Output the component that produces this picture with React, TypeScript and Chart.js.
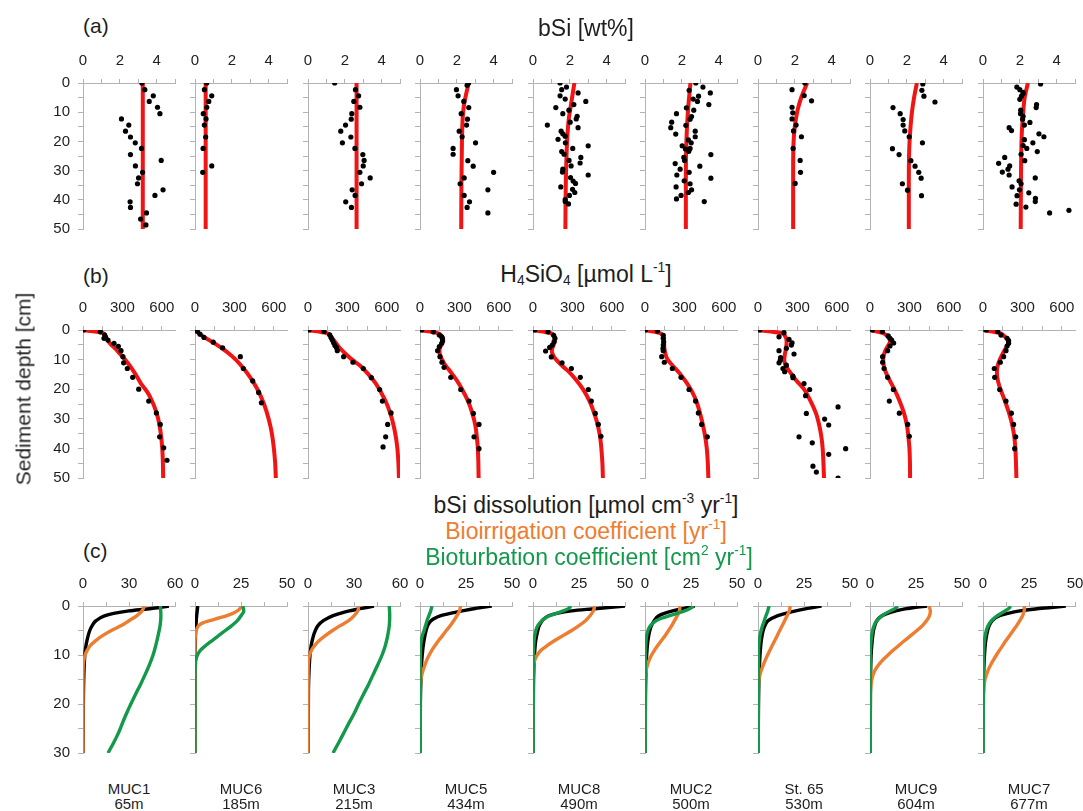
import React, { useEffect, useRef } from 'react';
import { Chart, registerables } from 'chart.js';

Chart.register(...registerables);

// [depth (cm), value]
type Pair = [number, number];

const STATIONS = ['MUC1', 'MUC6', 'MUC3', 'MUC5', 'MUC8', 'MUC2', 'St. 65', 'MUC9', 'MUC7'];
const WATER_DEPTHS = ['65m', '185m', '215m', '434m', '490m', '500m', '530m', '604m', '677m'];

// axis ticks
const BSI_TICKS = [0, 1, 2, 3, 4, 5];
const BSI_LABELS = [0, 2, 4];
const H4SIO4_TICKS = [0, 150, 300, 450, 600];
const H4SIO4_LABELS = [0, 300, 600];
const RATE_MAX = [60, 50, 60, 50, 50, 50, 50, 50, 50];
const DEPTH_TICKS_AB = [0, 5, 10, 15, 20, 25, 30, 35, 40, 45, 50];
const DEPTH_LABELS_AB = [0, 10, 20, 30, 40, 50];
const DEPTH_TICKS_C = [0, 5, 10, 15, 20, 25, 30];
const DEPTH_LABELS_C = [0, 10, 20, 30];

// ---------- (a) bSi [wt%]: measured ----------
const bsiObsMUC1: Pair[] = [[0, 3.2], [2.3, 3.36], [4.4, 3.82], [6.3, 3.6], [8.3, 4.05], [10.5, 4.18], [12.3, 2.09], [14.4, 2.49], [16.5, 2.31], [18.5, 2.58], [20.5, 2.84], [22.4, 3.18], [24.5, 2.58], [26.5, 4.25], [28.4, 2.85], [30.6, 3.24], [32.5, 3.02], [34.5, 2.96], [36.6, 4.35], [38.5, 3.91], [40.7, 2.56], [42.6, 2.58], [44.5, 3.45], [46.6, 3.13], [48.6, 3.42]];
const bsiObsMUC6: Pair[] = [[0, 0.64], [2.3, 0.51], [4.4, 0.91], [6.3, 0.75], [8.3, 0.64], [10.5, 0.45], [12.3, 0.6], [14.4, 0.51], [18.5, 0.58], [22.4, 0.44], [28.4, 0.91], [30.6, 0.42]];
const bsiObsMUC3: Pair[] = [[0, 1.45], [2.3, 2.58], [4.4, 2.75], [6.3, 2.49], [8.3, 2.82], [10.5, 2.38], [12.4, 2.35], [14.4, 2.04], [16.5, 1.78], [18.5, 2.33], [20.5, 1.87], [22.4, 2.55], [24.5, 2.98], [26.5, 3.05], [28.4, 3.0], [30.6, 2.82], [32.5, 3.38], [34.5, 2.91], [36.6, 2.4], [38.5, 2.56], [40.7, 2.05], [42.6, 2.36]];
const bsiObsMUC5: Pair[] = [[0, 2.64], [0.8, 2.56], [2.3, 1.98], [4.4, 2.07], [6.3, 2.38], [8.4, 2.65], [10.5, 2.24], [12.4, 2.58], [14.4, 2.53], [16.5, 2.13], [18.4, 2.29], [20.5, 3.02], [22.4, 1.8], [24.4, 1.8], [26.6, 2.6], [28.5, 2.89], [30.6, 4.0], [32.5, 2.4], [34.5, 2.18], [36.6, 3.69], [38.5, 2.4], [40.7, 2.69], [42.6, 2.56], [44.5, 3.69]];
const bsiObsMUC8: Pair[] = [[0, 1.47], [1.4, 1.82], [2.3, 1.56], [3.4, 2.45], [4.4, 1.47], [5.5, 1.75], [6.3, 2.87], [7.4, 2.22], [8.4, 1.24], [9.3, 1.95], [10.5, 1.62], [11.4, 2.4], [12.3, 2.35], [13.4, 2.02], [14.4, 0.78], [15.3, 2.45], [16.5, 1.53], [17.4, 1.62], [18.2, 1.75], [19.3, 1.36], [20.5, 1.76], [21.5, 3.0], [22.4, 2.16], [23.5, 1.56], [24.4, 1.69], [25.5, 2.6], [26.5, 1.96], [27.4, 2.56], [28.4, 2.07], [29.5, 1.62], [30.5, 1.6], [31.5, 3.0], [32.4, 2.04], [33.6, 2.18], [34.4, 2.31], [35.6, 1.51], [36.4, 2.15], [37.5, 2.27], [38.5, 1.98], [39.9, 1.75], [40.6, 1.75], [41.4, 1.93]];
const bsiObsMUC2: Pair[] = [[0, 2.76], [1.4, 3.15], [2.5, 2.4], [3.4, 3.55], [4.5, 2.91], [5.5, 2.62], [6.3, 2.85], [7.4, 3.47], [8.5, 2.25], [9.3, 2.65], [10.5, 1.71], [11.5, 2.53], [12.4, 2.45], [13.4, 1.45], [14.5, 2.22], [15.3, 1.4], [16.5, 2.73], [17.5, 1.67], [18.4, 2.73], [19.5, 2.36], [20.5, 2.51], [21.5, 2.02], [22.4, 2.45], [22.6, 2.2], [23.4, 2.38], [24.5, 3.58], [25.5, 2.11], [26.5, 2.15], [27.6, 1.64], [28.5, 2.98], [29.5, 1.91], [30.6, 2.4], [31.5, 1.73], [32.6, 3.58], [33.5, 2.13], [34.5, 2.45], [35.6, 1.69], [36.6, 2.53], [37.5, 2.36], [38.5, 1.96], [39.7, 1.71], [40.6, 3.22]];
const bsiObsSt65: Pair[] = [[0, 2.55], [2.3, 1.85], [4.3, 2.51], [6.1, 2.91], [8.3, 1.85], [10.2, 1.89], [12.3, 1.85], [14.4, 2.07], [16.4, 1.93], [18.4, 2.36], [22.4, 1.91], [26.5, 2.29], [30.6, 2.31], [34.4, 2.02]];
const bsiObsMUC9: Pair[] = [[0.3, 2.87], [2.5, 2.82], [4.5, 2.93], [6.5, 3.53], [8.4, 1.25], [10.5, 1.64], [12.5, 1.8], [14.4, 1.8], [16.4, 1.89], [18.4, 2.13], [20.5, 2.85], [22.5, 1.22], [24.5, 1.58], [26.6, 2.22], [28.5, 2.45], [30.6, 2.65], [32.6, 2.78], [34.5, 1.76], [36.7, 2.04], [38.6, 2.8]];
const bsiObsMUC7: Pair[] = [[0.3, 3.13], [1.4, 1.84], [2.3, 2.0], [3.2, 2.18], [3.6, 2.18], [4.5, 2.09], [5.6, 2.0], [7.4, 2.91], [8.4, 2.89], [9.3, 2.05], [10.5, 2.04], [11.4, 2.18], [12.4, 2.15], [13.5, 2.55], [14.4, 2.25], [15.3, 1.42], [16.3, 1.55], [17.4, 3.04], [18.4, 3.31], [19.4, 2.25], [20.5, 2.71], [21.4, 2.18], [22.4, 2.38], [23.5, 2.95], [24.4, 2.07], [25.5, 1.18], [26.6, 2.27], [27.5, 0.85], [28.4, 1.45], [29.5, 1.36], [30.5, 1.05], [31.5, 1.42], [32.5, 2.84], [33.5, 1.96], [34.5, 2.07], [35.6, 1.58], [36.6, 1.98], [37.6, 2.49], [38.6, 1.85], [39.5, 2.85], [40.6, 2.84], [41.5, 1.8], [42.5, 2.33], [43.6, 4.67], [44.5, 3.62]];

// ---------- (a) bSi [wt%]: model ----------
const bsiModMUC1: Pair[] = [[0, 3.25], [50, 3.25]];
const bsiModMUC6: Pair[] = [[0, 0.58], [50, 0.58]];
const bsiModMUC3: Pair[] = [[0, 2.64], [50, 2.64]];
const bsiModMUC5: Pair[] = [[0, 2.65], [4, 2.5], [8, 2.38], [12, 2.32], [20, 2.28], [35, 2.25], [50, 2.24]];
const bsiModMUC8: Pair[] = [[0, 2.25], [4, 2.15], [8, 2.05], [12, 1.95], [18, 1.87], [25, 1.82], [35, 1.78], [50, 1.76]];
const bsiModMUC2: Pair[] = [[0, 2.47], [10, 2.33], [20, 2.25], [30, 2.22], [50, 2.22]];
const bsiModSt65: Pair[] = [[0, 2.67], [4.8, 2.36], [9.3, 2.15], [15, 2.0], [20.7, 1.93], [30, 1.91], [50, 1.91]];
const bsiModMUC9: Pair[] = [[0, 2.55], [4.8, 2.4], [10.5, 2.27], [17, 2.18], [23, 2.13], [35, 2.11], [50, 2.11]];
const bsiModMUC7: Pair[] = [[0, 2.44], [4.8, 2.27], [10.5, 2.18], [17, 2.11], [28, 2.07], [50, 2.05]];

// ---------- (b) H4SiO4 [µmol L-1]: measured ----------
const siObsMUC1: Pair[] = [[0, 5], [0.6, 132], [1.7, 165], [2.5, 172], [2.8, 160], [3.4, 190], [4.5, 236], [5.5, 269], [7.0, 289], [9.0, 304], [11.1, 309], [13.0, 337], [16.0, 378], [20.0, 424], [24.0, 500], [28.0, 558], [31.9, 588], [36.1, 583], [39.8, 614], [44.0, 639]];
const siObsMUC6: Pair[] = [[0, 5], [0.5, 18], [1.4, 38], [2.5, 68], [4.1, 139], [6.0, 210], [9.0, 345], [13.0, 368], [17.2, 439], [21.1, 484], [24.6, 505]];
const siObsMUC3: Pair[] = [[0, 8], [0.5, 122], [1.6, 165], [2.5, 175], [3.4, 185], [4.3, 195], [5.2, 205], [5.9, 216], [7.0, 223], [9.0, 271], [10.9, 342], [13.0, 421], [16.1, 482], [20.1, 545], [24.0, 566], [28.0, 632], [31.9, 606], [36.1, 591], [39.5, 571]];
const siObsMUC5: Pair[] = [[0, 13], [0.6, 101], [1.7, 147], [2.3, 165], [2.9, 170], [3.6, 172], [4.5, 165], [5.6, 147], [7.0, 134], [9.0, 152], [10.9, 167], [12.6, 183], [16.0, 234], [20.1, 310], [24.0, 373], [28.2, 406], [31.9, 449], [36.1, 411], [40.1, 449]];
const siObsMUC8: Pair[] = [[0, 13], [0.6, 114], [1.8, 157], [2.8, 167], [4.0, 160], [5.1, 147], [5.9, 127], [7.1, 96], [9.1, 139], [11.1, 221], [13.0, 292], [16.0, 360], [20.1, 421], [24.0, 444], [28.2, 474], [31.9, 497], [35.9, 517]];
const siObsMUC2: Pair[] = [[0, 5], [0.3, 94], [1.8, 139], [2.8, 139], [4.0, 142], [5.1, 139], [6.2, 137], [7.0, 139], [9.0, 127], [10.9, 147], [13.0, 208], [16.0, 274], [20.1, 335], [24.0, 385], [28.0, 406], [31.9, 431], [36.1, 474]];
const siObsSt65: Pair[] = [[0, 13], [0.9, 198], [2.3, 160], [3.2, 236], [4.3, 259], [5.1, 254], [6.2, 216], [7.0, 160], [8.1, 274], [9.3, 172], [10.2, 170], [11.1, 160], [11.9, 216], [13.0, 190], [14.1, 203], [15.6, 266], [16.1, 266], [18.1, 350], [20.1, 393], [22.2, 362], [26.0, 609], [28.2, 368], [30.1, 507], [32.1, 538], [36.1, 312], [38.1, 413], [40.1, 667], [42.0, 538], [46.0, 418], [48.0, 444], [50.0, 609]];
const siObsMUC9: Pair[] = [[0, 18], [0.5, 94], [2.0, 139], [2.8, 152], [3.4, 165], [4.4, 180], [5.4, 152], [7.0, 134], [9.0, 96], [10.9, 96], [13.0, 107], [16.0, 134], [20.1, 178], [24.0, 147], [28.1, 223], [31.9, 287], [35.9, 299]];
const siObsMUC7: Pair[] = [[0, 25], [0.5, 112], [1.7, 137], [2.8, 183], [3.6, 195], [4.5, 195], [5.4, 183], [7.0, 175], [9.0, 157], [10.9, 132], [13.0, 86], [16.0, 89], [20.1, 127], [24.0, 175], [28.1, 216], [31.9, 233], [36.1, 249], [40.1, 241]];

// ---------- (b) H4SiO4 [µmol L-1]: model ----------
const siModMUC1: Pair[] = [[0, 0], [1, 150], [2, 170], [3, 180], [4, 195], [5, 215], [6, 240], [8, 280], [10, 320], [12, 355], [15, 400], [18, 440], [21, 490], [24, 525], [27, 552], [30, 572], [35, 592], [40, 603], [45, 608], [50, 610]];
const siModMUC6: Pair[] = [[0, 0], [2, 55], [4, 130], [6, 200], [8, 260], [10, 310], [13, 370], [16, 420], [20, 475], [25, 525], [30, 560], [35, 585], [40, 600], [45, 610], [50, 615]];
const siModMUC3: Pair[] = [[0, 0], [1, 140], [2, 170], [4, 205], [6, 240], [8, 285], [10, 335], [12, 395], [15, 460], [18, 515], [21, 555], [24, 590], [28, 625], [32, 650], [36, 668], [40, 680], [45, 688], [50, 692]];
const siModMUC5: Pair[] = [[0, 0], [1, 130], [2, 165], [3, 175], [4, 172], [5, 163], [6, 152], [7, 148], [8, 150], [10, 168], [12, 195], [14, 230], [17, 280], [20, 320], [24, 365], [28, 397], [32, 420], [36, 432], [40, 440], [45, 444], [50, 446]];
const siModMUC8: Pair[] = [[0, 0], [1, 130], [2, 162], [3, 168], [4, 165], [5, 157], [6, 148], [7, 143], [8, 148], [10, 175], [12, 220], [14, 270], [17, 330], [20, 380], [24, 430], [28, 465], [32, 492], [36, 510], [40, 520], [45, 528], [50, 532]];
const siModMUC2: Pair[] = [[0, 0], [1, 110], [2, 138], [4, 145], [6, 147], [8, 155], [10, 172], [12, 210], [15, 270], [18, 320], [21, 360], [24, 390], [28, 418], [32, 440], [36, 458], [40, 470], [45, 478], [50, 482]];
const siModSt65: Pair[] = [[0, 0], [1, 170], [2, 205], [4, 218], [6, 214], [8, 205], [10, 200], [12, 210], [14, 240], [17, 290], [20, 350], [24, 400], [28, 440], [32, 465], [36, 482], [40, 492], [45, 498], [50, 502]];
const siModMUC9: Pair[] = [[0, 0], [1, 95], [2, 130], [3, 148], [4, 152], [5, 142], [6, 128], [8, 108], [10, 100], [12, 105], [14, 118], [17, 150], [20, 185], [24, 225], [28, 258], [32, 280], [36, 292], [40, 300], [45, 304], [50, 305]];
const siModMUC7: Pair[] = [[0, 0], [1, 125], [2, 160], [3, 185], [4, 192], [5, 188], [6, 175], [8, 150], [10, 128], [12, 112], [14, 106], [16, 108], [19, 125], [22, 150], [25, 175], [28, 198], [32, 222], [36, 238], [40, 246], [45, 251], [50, 254]];

// ---------- (c) bSi dissolution [µmol cm-3 yr-1] ----------
const dissMUC1: Pair[] = [[0, 56], [0.3, 50], [0.6, 42], [1, 30], [1.5, 20], [2, 14], [3, 8.5], [4, 6], [5, 4.4], [7, 2.6], [9, 1.5], [12, 0.8], [16, 0.4], [20, 0.2], [30, 0.1]];
const dissMUC6: Pair[] = [[0, 1.5], [1, 1.2], [2, 0.9], [3, 0.7], [4, 0.5], [5, 0.35], [7, 0.2], [10, 0.1], [30, 0]];
const dissMUC3: Pair[] = [[0, 43], [0.5, 35], [1, 27], [1.5, 21], [2, 16], [3, 10], [4, 6.5], [5, 4.8], [6, 3.6], [8, 2.1], [10, 1.3], [13, 0.7], [17, 0.3], [30, 0.1]];
const dissMUC5: Pair[] = [[0, 39], [0.5, 30], [1, 23], [1.5, 16.5], [2, 11], [2.5, 8], [3, 6], [4, 4.2], [5, 3.3], [7, 2.2], [10, 1.2], [15, 0.5], [20, 0.2], [30, 0.1]];
const dissMUC8: Pair[] = [[0, 50], [0.3, 41], [0.6, 32], [1, 21], [1.5, 13], [2, 8.5], [3, 5], [4, 3.4], [5, 2.6], [7, 1.5], [10, 0.8], [15, 0.3], [30, 0.1]];
const dissMUC2: Pair[] = [[0, 27], [0.5, 21], [1, 15], [1.5, 10.5], [2, 7.5], [3, 5], [4, 3.5], [5, 2.6], [7, 1.6], [10, 0.9], [15, 0.4], [30, 0.1]];
const dissSt65: Pair[] = [[0, 34.5], [0.5, 27], [1, 20.5], [1.5, 15], [2, 10.5], [3, 5.5], [4, 3.8], [5, 2.8], [7, 1.8], [10, 1.1], [15, 0.5], [30, 0.1]];
const dissMUC9: Pair[] = [[0, 31], [0.3, 24], [0.6, 19], [1, 14], [1.5, 9.5], [2, 6.5], [3, 3.7], [4, 2.6], [5, 1.9], [7, 1.2], [10, 0.6], [15, 0.3], [30, 0.1]];
const dissMUC7: Pair[] = [[0, 45], [0.3, 37], [0.6, 28.5], [1, 20], [1.5, 13.5], [2, 9], [3, 5], [4, 3.4], [5, 2.5], [7, 1.5], [10, 0.8], [15, 0.3], [30, 0.1]];

// ---------- (c) Bioirrigation coefficient [yr-1] ----------
const irrMUC1: Pair[] = [[0, 40], [1, 38.5], [2, 35], [3, 30], [4, 25], [5, 18.5], [6, 13], [7, 8.5], [8, 5], [9, 2.8], [10, 1.4], [11, 0.6], [12, 0.2], [14, 0], [30, 0]];
const irrMUC6: Pair[] = [[0, 25], [0.5, 24.5], [1, 23], [1.5, 20.5], [2, 17], [2.5, 12.5], [3, 8], [3.5, 4], [4, 2], [5, 0.7], [6, 0.2], [8, 0], [30, 0]];
const irrMUC3: Pair[] = [[0, 33], [1, 32.5], [2, 30], [3, 26.5], [4, 21], [5, 16], [6, 11.5], [7, 7.5], [8, 4.5], [9, 2.3], [10, 1], [11, 0.4], [13, 0.1], [30, 0]];
const irrMUC5: Pair[] = [[0, 22], [1, 21.5], [2, 20], [3, 18.3], [4, 16.5], [5, 14.3], [6, 12.3], [7, 10.2], [8, 8.3], [9, 6.5], [10, 5], [11, 3.7], [12, 2.7], [13, 1.8], [14, 1], [15, 0.5], [17, 0.1], [30, 0]];
const irrMUC8: Pair[] = [[0, 33.5], [1, 32.8], [2, 31], [3, 28.5], [4, 25], [5, 21], [6, 16.5], [7, 12], [8, 8], [9, 4.5], [10, 2.3], [11, 1], [12, 0.4], [14, 0.1], [30, 0]];
const irrMUC2: Pair[] = [[0, 19], [1, 18.7], [2, 17.5], [3, 16], [4, 14.5], [5, 12.8], [6, 11], [7, 9], [8, 7], [9, 5.2], [10, 3.6], [11, 2.3], [12, 1.4], [13, 0.7], [15, 0.2], [30, 0]];
const irrSt65: Pair[] = [[0, 17.5], [1, 17], [2, 15.8], [3, 14.5], [4, 13.2], [5, 11.8], [6, 10.5], [7, 9.2], [8, 7.8], [9, 6.5], [10, 5.2], [11, 4], [12, 2.9], [13, 1.9], [14, 1.1], [15, 0.5], [17, 0.1], [30, 0]];
const irrMUC9: Pair[] = [[0, 32], [1, 32.8], [2, 32.3], [3, 30.7], [4, 28.5], [5, 25.5], [6, 22.3], [7, 19], [8, 15.8], [9, 12.7], [10, 9.8], [11, 7], [12, 4.7], [13, 2.9], [14, 1.7], [15, 1], [17, 0.3], [20, 0], [30, 0]];
const irrMUC7: Pair[] = [[0, 22.5], [1, 22.4], [2, 21.5], [3, 20], [4, 18.3], [5, 16.4], [6, 14.5], [7, 12.6], [8, 10.8], [9, 9], [10, 7.3], [11, 5.7], [12, 4.2], [13, 2.9], [14, 1.9], [15, 1.1], [17, 0.4], [20, 0], [30, 0]];

// ---------- (c) Bioturbation coefficient [cm2 yr-1] ----------
const turbMUC1: Pair[] = [[0, 50.5], [2, 50.8], [4, 50.3], [6, 49], [8, 47.5], [10, 45.7], [12, 43.3], [14, 40.5], [16, 37.5], [18, 34.3], [20, 31.2], [22, 28.3], [24, 25.6], [26, 23], [28, 19.8], [30, 16.3]];
const turbMUC6: Pair[] = [[0, 26], [1, 26.5], [2, 25], [3, 23], [4, 20], [5, 16.5], [6, 13], [7, 9.5], [8, 6], [9, 3], [10, 1.3], [11, 0.5], [12, 0.2], [14, 0], [30, 0]];
const turbMUC3: Pair[] = [[0, 53], [2, 53.3], [4, 53], [6, 52], [8, 50.5], [10, 48.3], [12, 45.5], [14, 42.5], [16, 39.5], [18, 36.2], [20, 33], [22, 30], [24, 26.5], [26, 23.2], [28, 19.8], [30, 16.3]];
const turbMUC5: Pair[] = [[0, 6.5], [1, 5.8], [2, 4.8], [3, 3.8], [4, 3], [5, 2.2], [6, 1.3], [7, 0.7], [8, 0.4], [10, 0.2], [30, 0.1]];
const turbMUC8: Pair[] = [[0, 20.5], [0.5, 19.5], [1, 16.5], [1.5, 12.5], [2, 9], [2.5, 6.5], [3, 4.8], [4, 2.6], [5, 1.5], [7, 0.6], [10, 0.2], [30, 0.1]];
const turbMUC2: Pair[] = [[0, 26.5], [0.5, 24.5], [1, 21.5], [1.5, 17.5], [2, 13], [2.5, 9], [3, 6], [4, 3], [5, 1.6], [6, 0.9], [8, 0.4], [10, 0.2], [30, 0.1]];
const turbSt65: Pair[] = [[0, 6], [1, 5.3], [2, 4.3], [3, 3.4], [4, 2.5], [5, 1.7], [6, 1.1], [7, 0.7], [9, 0.3], [30, 0.1]];
const turbMUC9: Pair[] = [[0, 15], [0.5, 13.8], [1, 11], [1.5, 8.5], [2, 6.5], [3, 3.6], [4, 2.2], [5, 1.4], [7, 0.6], [10, 0.2], [30, 0.1]];
const turbMUC7: Pair[] = [[0, 15], [0.5, 14], [1, 12], [1.5, 9.8], [2, 7.6], [3, 4.6], [4, 2.8], [5, 1.8], [7, 0.8], [10, 0.3], [30, 0.1]];

const BSI_OBS = [bsiObsMUC1, bsiObsMUC6, bsiObsMUC3, bsiObsMUC5, bsiObsMUC8, bsiObsMUC2, bsiObsSt65, bsiObsMUC9, bsiObsMUC7];
const BSI_MOD = [bsiModMUC1, bsiModMUC6, bsiModMUC3, bsiModMUC5, bsiModMUC8, bsiModMUC2, bsiModSt65, bsiModMUC9, bsiModMUC7];
const SI_OBS = [siObsMUC1, siObsMUC6, siObsMUC3, siObsMUC5, siObsMUC8, siObsMUC2, siObsSt65, siObsMUC9, siObsMUC7];
const SI_MOD = [siModMUC1, siModMUC6, siModMUC3, siModMUC5, siModMUC8, siModMUC2, siModSt65, siModMUC9, siModMUC7];
const DISS = [dissMUC1, dissMUC6, dissMUC3, dissMUC5, dissMUC8, dissMUC2, dissSt65, dissMUC9, dissMUC7];
const IRR = [irrMUC1, irrMUC6, irrMUC3, irrMUC5, irrMUC8, irrMUC2, irrSt65, irrMUC9, irrMUC7];
const TURB = [turbMUC1, turbMUC6, turbMUC3, turbMUC5, turbMUC8, turbMUC2, turbSt65, turbMUC9, turbMUC7];

// ---------- styling ----------
const FONT = '"Liberation Sans", Arial, Helvetica, sans-serif';
const INK = '#1e1e1e';
const AXIS = '#b3b3b3';
const RED = '#f01414';
const ORANGE = '#ED7D31';
const GREEN = '#13994A';

const PLOT_W = 92;
const COL_X0 = 83;
const COL_STEP = 112.45;
const PAD_L_FIRST = 50;
const PAD_L = 8;
const PAD_T = 40;
const PAD_R = 16;
const PAD_B = 12;

const toXY = (p: Pair[]) => p.map(([d, v]) => ({ x: v, y: d }));

const dots = (p: Pair[]) => ({
  data: toXY(p),
  showLine: false,
  borderWidth: 0,
  pointRadius: 2.6,
  pointBackgroundColor: '#000',
  pointBorderWidth: 0,
});

const curve = (p: Pair[], color: string, width: number) => ({
  data: toXY(p),
  showLine: true,
  borderColor: color,
  borderWidth: width,
  pointRadius: 0,
  fill: false,
  cubicInterpolationMode: 'monotone' as const,
  borderCapStyle: 'butt' as const,
});

type PanelProps = {
  col: number;
  top: number;
  height: number;
  xMax: number;
  xTicks: number[];
  xLabels: number[];
  yMax: number;
  yTicks: number[];
  yLabels: number[];
  datasets: any[];
};

function Panel({ col, top, height, xMax, xTicks, xLabels, yMax, yTicks, yLabels, datasets }: PanelProps) {
  const ref = useRef<HTMLCanvasElement>(null);
  const padL = col === 0 ? PAD_L_FIRST : PAD_L;
  const plotLeft = Math.round(COL_X0 + COL_STEP * col);
  const w = padL + PLOT_W + PAD_R;
  const h = PAD_T + height + PAD_B;

  useEffect(() => {
    const tickFont = { family: FONT, size: 15 };
    const chart = new Chart(ref.current as HTMLCanvasElement, {
      type: 'line',
      data: { datasets },
      options: {
        responsive: false,
        animation: false,
        devicePixelRatio: 1,
        indexAxis: 'y',
        events: [],
        layout: { padding: { left: 0, top: 0, right: PAD_R, bottom: PAD_B } },
        plugins: { legend: { display: false }, tooltip: { enabled: false } },
        scales: {
          x: {
            type: 'linear',
            position: 'top',
            min: 0,
            max: xMax,
            afterBuildTicks: (s: any) => {
              s.ticks = xTicks.map((v) => ({ value: v }));
            },
            afterFit: (s: any) => {
              s.height = PAD_T;
              s.paddingLeft = 0;
              s.paddingRight = 0;
            },
            grid: { drawOnChartArea: false, drawTicks: true, tickLength: 4, color: AXIS, lineWidth: 1 },
            border: { display: true, color: AXIS, width: 1 },
            ticks: {
              autoSkip: false,
              maxRotation: 0,
              minRotation: 0,
              padding: 9,
              color: INK,
              font: tickFont,
              callback: (v: any) => (xLabels.includes(Number(v)) ? String(v) : ''),
            },
          },
          y: {
            type: 'linear',
            position: 'left',
            reverse: true,
            min: 0,
            max: yMax,
            afterBuildTicks: (s: any) => {
              s.ticks = yTicks.map((v) => ({ value: v }));
            },
            afterFit: (s: any) => {
              s.width = padL;
              s.paddingTop = 0;
              s.paddingBottom = 0;
            },
            grid: { drawOnChartArea: false, drawTicks: true, tickLength: 5, color: AXIS, lineWidth: 1 },
            border: { display: true, color: AXIS, width: 1 },
            ticks: {
              display: col === 0,
              autoSkip: false,
              padding: 8,
              color: INK,
              font: tickFont,
              callback: (v: any) => (yLabels.includes(Number(v)) ? String(v) : ''),
            },
          },
        },
      } as any,
    });
    return () => chart.destroy();
  }, []);

  return (
    <canvas
      ref={ref}
      width={w}
      height={h}
      style={{ position: 'absolute', left: plotLeft - padL, top: top - PAD_T, width: w, height: h }}
    />
  );
}

function Text({ x, y, size, color = INK, align = 'center', children, rotate = false }: any) {
  const tx = align === 'center' ? '-50%' : '0';
  return (
    <div
      style={{
        position: 'absolute',
        left: x,
        top: y,
        transform: rotate ? 'translate(-50%, -50%) rotate(-90deg)' : `translate(${tx}, -50%)`,
        fontFamily: FONT,
        fontSize: size,
        lineHeight: 1,
        color,
        whiteSpace: 'nowrap',
      }}
    >
      {children}
    </div>
  );
}

const supStyle: React.CSSProperties = { fontSize: '0.6em', verticalAlign: '0.7em', lineHeight: 0 };
const subStyle: React.CSSProperties = { fontSize: '0.6em', verticalAlign: '-0.25em', lineHeight: 0 };

const ROW_A_TOP = 83;
const ROW_A_H = 146;
const ROW_B_TOP = 330;
const ROW_B_H = 148;
const ROW_C_TOP = 606;
const ROW_C_H = 147;

export default function App() {
  const cols = STATIONS.map((_, i) => i);
  return (
    <div style={{ position: 'absolute', left: 0, top: 0, width: 1083, height: 811, background: '#fff', overflow: 'hidden' }}>
      {cols.map((i) => (
        <Panel
          key={`a${i}`}
          col={i}
          top={ROW_A_TOP}
          height={ROW_A_H}
          xMax={5}
          xTicks={BSI_TICKS}
          xLabels={BSI_LABELS}
          yMax={50}
          yTicks={DEPTH_TICKS_AB}
          yLabels={DEPTH_LABELS_AB}
          datasets={[dots(BSI_OBS[i]), curve(BSI_MOD[i], RED, 4)]}
        />
      ))}
      {cols.map((i) => (
        <Panel
          key={`b${i}`}
          col={i}
          top={ROW_B_TOP}
          height={ROW_B_H}
          xMax={700}
          xTicks={H4SIO4_TICKS}
          xLabels={H4SIO4_LABELS}
          yMax={50}
          yTicks={DEPTH_TICKS_AB}
          yLabels={DEPTH_LABELS_AB}
          datasets={[dots(SI_OBS[i]), curve(SI_MOD[i], RED, 4)]}
        />
      ))}
      {cols.map((i) => {
        const m = RATE_MAX[i];
        const ticks = [0, m / 4, m / 2, (3 * m) / 4, m];
        return (
          <Panel
            key={`c${i}`}
            col={i}
            top={ROW_C_TOP}
            height={ROW_C_H}
            xMax={m}
            xTicks={ticks}
            xLabels={[0, m / 2, m]}
            yMax={30}
            yTicks={DEPTH_TICKS_C}
            yLabels={DEPTH_LABELS_C}
            datasets={[curve(TURB[i], GREEN, 3.4), curve(IRR[i], ORANGE, 3.4), curve(DISS[i], '#000', 3.4)]}
          />
        );
      })}

      <Text x={83} y={25} size={21} align="left">(a)</Text>
      <Text x={586} y={28} size={23}>bSi [wt%]</Text>

      <Text x={83} y={275} size={21} align="left">(b)</Text>
      <Text x={586} y={274} size={23}>
        H<span style={subStyle}>4</span>SiO<span style={subStyle}>4</span> [µmol L<span style={supStyle}>-1</span>]
      </Text>

      <Text x={23} y={389} size={21} rotate>Sediment depth [cm]</Text>

      <Text x={586} y={505} size={23}>
        bSi dissolution [µmol cm<span style={supStyle}>-3</span> yr<span style={supStyle}>-1</span>]
      </Text>
      <Text x={586} y={531} size={23} color={ORANGE}>
        Bioirrigation coefficient [yr<span style={supStyle}>-1</span>]
      </Text>
      <Text x={589} y={557} size={23} color={GREEN}>
        Bioturbation coefficient [cm<span style={supStyle}>2</span> yr<span style={supStyle}>-1</span>]
      </Text>
      <Text x={83} y={550} size={21} align="left">(c)</Text>

      {cols.map((i) => {
        const cx = Math.round(COL_X0 + COL_STEP * i) + PLOT_W / 2;
        return (
          <React.Fragment key={`s${i}`}>
            <Text x={cx} y={788} size={15}>{STATIONS[i]}</Text>
            <Text x={cx} y={803} size={15}>{WATER_DEPTHS[i]}</Text>
          </React.Fragment>
        );
      })}
    </div>
  );
}
